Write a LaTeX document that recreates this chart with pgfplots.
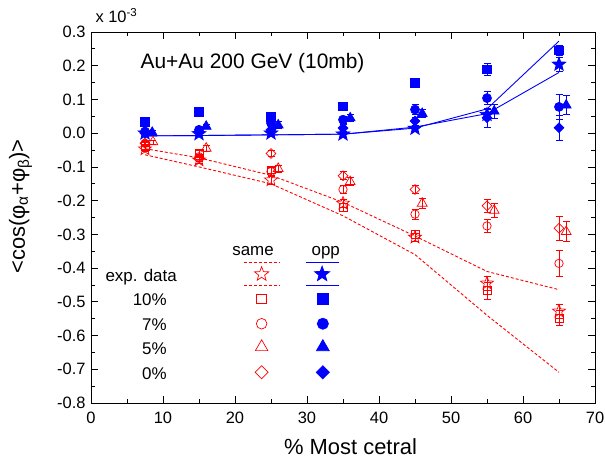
\documentclass[border=0pt]{standalone}
\usepackage{fontspec}
\setmainfont{Liberation Sans}
\usepackage{pgfplots}
\pgfplotsset{compat=1.18}
\definecolor{myred}{RGB}{255,0,0}
\definecolor{myblue}{RGB}{0,0,255}
\pgfdeclareplotmark{fstar}{%
  \pgfpathmoveto{\pgfpointpolar{90}{\pgfplotmarksize}}%
  \pgfpathlineto{\pgfpointpolar{126}{0.42\pgfplotmarksize}}%
  \pgfpathlineto{\pgfpointpolar{162}{\pgfplotmarksize}}%
  \pgfpathlineto{\pgfpointpolar{198}{0.42\pgfplotmarksize}}%
  \pgfpathlineto{\pgfpointpolar{234}{\pgfplotmarksize}}%
  \pgfpathlineto{\pgfpointpolar{270}{0.42\pgfplotmarksize}}%
  \pgfpathlineto{\pgfpointpolar{306}{\pgfplotmarksize}}%
  \pgfpathlineto{\pgfpointpolar{342}{0.42\pgfplotmarksize}}%
  \pgfpathlineto{\pgfpointpolar{18}{\pgfplotmarksize}}%
  \pgfpathlineto{\pgfpointpolar{54}{0.42\pgfplotmarksize}}%
  \pgfpathclose\pgfusepathqstroke}
\pgfdeclareplotmark{fstar*}{%
  \pgfpathmoveto{\pgfpointpolar{90}{\pgfplotmarksize}}%
  \pgfpathlineto{\pgfpointpolar{126}{0.42\pgfplotmarksize}}%
  \pgfpathlineto{\pgfpointpolar{162}{\pgfplotmarksize}}%
  \pgfpathlineto{\pgfpointpolar{198}{0.42\pgfplotmarksize}}%
  \pgfpathlineto{\pgfpointpolar{234}{\pgfplotmarksize}}%
  \pgfpathlineto{\pgfpointpolar{270}{0.42\pgfplotmarksize}}%
  \pgfpathlineto{\pgfpointpolar{306}{\pgfplotmarksize}}%
  \pgfpathlineto{\pgfpointpolar{342}{0.42\pgfplotmarksize}}%
  \pgfpathlineto{\pgfpointpolar{18}{\pgfplotmarksize}}%
  \pgfpathlineto{\pgfpointpolar{54}{0.42\pgfplotmarksize}}%
  \pgfpathclose\pgfusepathqfillstroke}
\pgfplotsset{
  redpt/.style={only marks, color=myred, line width=0.7bp,
    error bars/y dir=both, error bars/y explicit,
    error bars/error bar style={line width=0.7bp, color=myred},
    error bars/error mark options={rotate=90, mark size=3.5bp, line width=0.7bp, color=myred}},
  bluept/.style={only marks, color=myblue, fill=myblue, line width=0.7bp,
    error bars/y dir=both, error bars/y explicit,
    error bars/error bar style={line width=0.7bp, color=myblue},
    error bars/error mark options={rotate=90, mark size=3.5bp, line width=0.7bp, color=myblue}},
  legr/.style={only marks, color=myred, line width=0.7bp},
  legb/.style={only marks, color=myblue, fill=myblue, line width=0.7bp},
  bline/.style={draw=myblue, color=myblue, line width=0.9bp, no marks},
  rline/.style={draw=myred, color=myred, line width=0.9bp, dash pattern=on 3bp off 2bp, no marks},
}
\begin{document}
\begin{tikzpicture}
\begin{axis}[name=ax, scale only axis, width=504bp, height=371bp,
  xmin=0, xmax=70, ymin=-0.8, ymax=0.3,
  xtick={0,10,20,30,40,50,60,70},
  ytick={-0.8,-0.7,-0.6,-0.5,-0.4,-0.3,-0.2,-0.1,0,0.1,0.2,0.3},
  yticklabels={-0.8,-0.7,-0.6,-0.5,-0.4,-0.3,-0.2,-0.1,0.0,0.1,0.2,0.3},
  minor x tick num=1, minor y tick num=1,
  tick align=inside, major tick length=7bp, minor tick length=4bp,
  tick style={line width=0.8bp, color=black},
  axis line style={line width=0.8bp},
  /pgf/number format/assume math mode=true,
  tick label style={font=\fontsize{16.5}{18}\selectfont},
  xticklabel style={yshift=-6bp},
  yticklabel style={xshift=-2bp},
  xlabel={\% Most cetral},
  ylabel={<cos(φ\textsubscript{α}+φ\textsubscript{β})>},
  xlabel style={font=\fontsize{22}{24}\selectfont, at={(axis description cs:0.515,-0.119)}, anchor=center},
  ylabel style={font=\fontsize{22}{24}\selectfont, at={(axis description cs:-0.14,0.53)}, anchor=center},
  clip=false,
]
% model lines
\addplot[bline] coordinates {(7.5,-0.008)(15,-0.007)(25,-0.005)(35,-0.003)(45,0.015)(55,0.072)(65,0.273)};
\addplot[bline] coordinates {(7.5,-0.008)(15,-0.007)(25,-0.005)(35,-0.003)(45,0.018)(55,0.058)(65,0.180)};
\addplot[rline] coordinates {(7.5,-0.046)(15,-0.073)(25,-0.125)(35,-0.205)(45,-0.305)(55,-0.410)(65,-0.464)};
\addplot[rline] coordinates {(7.5,-0.064)(15,-0.100)(25,-0.150)(35,-0.245)(45,-0.360)(55,-0.540)(65,-0.709)};
% red open (same)
\addplot[redpt, mark=square, mark size=3.9bp] coordinates {(7.5,-0.040)+-(0,0.008) (15,-0.060)+-(0,0.008) (25,-0.109)+-(0,0.010) (35,-0.221)+-(0,0.012) (45,-0.300)+-(0,0.012) (55,-0.467)+-(0,0.025) (65,-0.548)+-(0,0.022)};
\addplot[redpt, mark=o, mark size=4.2bp] coordinates {(7.5,-0.030)+-(0,0.008) (15,-0.070)+-(0,0.008) (25,-0.114)+-(0,0.012) (35,-0.167)+-(0,0.012) (45,-0.240)+-(0,0.015) (55,-0.275)+-(0,0.020) (65,-0.386)+-(0,0.038)};
\addplot[redpt, mark=triangle, mark size=5.7bp] coordinates {(8.6,-0.026)+-(0,0.006) (16,-0.045)+-(0,0.008) (26,-0.105)+-(0,0.010) (36,-0.144)+-(0,0.012) (46,-0.208)+-(0,0.014) (56,-0.229)+-(0,0.020) (66,-0.292)+-(0,0.030)};
\addplot[redpt, mark=diamond, mark size=4.9bp, mark options={xscale=1.33}] coordinates {(7.5,-0.030)+-(0,0.006) (15,-0.075)+-(0,0.008) (25,-0.060)+-(0,0.010) (35,-0.126)+-(0,0.012) (45,-0.167)+-(0,0.012) (55,-0.215)+-(0,0.020) (65,-0.282)+-(0,0.035)};
\addplot[redpt, mark=fstar, mark size=6.8bp] coordinates {(7.5,-0.047)+-(0,0.008) (15,-0.080)+-(0,0.010) (25,-0.139)+-(0,0.012) (35,-0.208)+-(0,0.012) (45,-0.309)+-(0,0.012) (55,-0.445)+-(0,0.020) (65,-0.528)+-(0,0.020)};
% blue filled (opp)
\addplot[bluept, mark=square*, mark size=4.2bp] coordinates {(7.5,0.033)+-(0,0.012) (15,0.063)+-(0,0.006) (25,0.048)+-(0,0.015) (35,0.080)+-(0,0.006) (45,0.149)+-(0,0.012) (55,0.189)+-(0,0.018) (65,0.245)+-(0,0.015)};
\addplot[bluept, mark=*, mark size=4.5bp] coordinates {(7.5,0.005)+-(0,0.005) (15,0.010)+-(0,0.006) (25,0.030)+-(0,0.012) (35,0.040)+-(0,0.010) (45,0.070)+-(0,0.015) (55,0.104)+-(0,0.020) (65,0.078)+-(0,0.038)};
\addplot[bluept, mark=triangle*, mark size=5.7bp] coordinates {(8.5,0.002)+-(0,0.005) (16,0.020)+-(0,0.006) (26,0.024)+-(0,0.010) (36,0.045)+-(0,0.010) (46,0.058)+-(0,0.012) (56,0.065)+-(0,0.020) (66,0.083)+-(0,0.028)};
\addplot[bluept, mark=diamond*, mark size=4.9bp, mark options={xscale=1.33}] coordinates {(7.5,0.000)+-(0,0.005) (15,0.005)+-(0,0.006) (25,0.010)+-(0,0.010) (35,0.015)+-(0,0.010) (45,0.036)+-(0,0.012) (55,0.046)+-(0,0.028) (65,0.016)+-(0,0.037)};
\addplot[bluept, mark=fstar*, mark size=7.2bp] coordinates {(7.5,0.000)+-(0,0.004) (15,-0.002)+-(0,0.005) (25,0.000)+-(0,0.008) (35,-0.003)+-(0,0.008) (45,0.014)+-(0,0.010) (55,0.055)+-(0,0.015) (65,0.204)+-(0,0.020)};
% legend block
\addplot[rline] coordinates {(21.2,-0.384)(26.3,-0.384)};
\addplot[rline] coordinates {(21.2,-0.452)(26.3,-0.452)};
\addplot[bline] coordinates {(29.9,-0.384)(34.5,-0.384)};
\addplot[bline] coordinates {(29.9,-0.452)(34.5,-0.452)};
\addplot[legr, mark=fstar, mark size=7.5bp] coordinates {(23.7,-0.418)};
\addplot[legr, mark=square, mark size=4.8bp] coordinates {(23.7,-0.491)};
\addplot[legr, mark=o, mark size=5.3bp] coordinates {(23.7,-0.565)};
\addplot[legr, mark=triangle, mark size=7.2bp] coordinates {(23.7,-0.634)};
\addplot[legr, mark=diamond, mark size=6.5bp, mark options={xscale=1.33}] coordinates {(23.7,-0.709)};
\addplot[legb, mark=fstar*, mark size=8bp] coordinates {(32.1,-0.418)};
\addplot[legb, mark=square*, mark size=5.2bp] coordinates {(32.2,-0.491)};
\addplot[legb, mark=*, mark size=5.6bp] coordinates {(32.2,-0.565)};
\addplot[legb, mark=triangle*, mark size=7.4bp] coordinates {(32.2,-0.634)};
\addplot[legb, mark=diamond*, mark size=6.6bp, mark options={xscale=1.33}] coordinates {(32.2,-0.709)};
\node[anchor=base, font=\fontsize{17}{19}\selectfont] at (axis cs:22.5,-0.364) {same};
\node[anchor=base, font=\fontsize{17}{19}\selectfont] at (axis cs:32.6,-0.364) {opp};
\node[anchor=base east, font=\fontsize{17}{19}\selectfont] at (axis cs:12.4,-0.440) {exp. data};
\node[anchor=base east, font=\fontsize{17}{19}\selectfont] at (axis cs:11.0,-0.512) {10\%};
\node[anchor=base east, font=\fontsize{17}{19}\selectfont] at (axis cs:11.0,-0.585) {7\%};
\node[anchor=base east, font=\fontsize{17}{19}\selectfont] at (axis cs:11.0,-0.655) {5\%};
\node[anchor=base east, font=\fontsize{17}{19}\selectfont] at (axis cs:11.0,-0.730) {0\%};
\node[anchor=west, font=\fontsize{21}{23}\selectfont] at (axis cs:6.4,0.207) {Au+Au 200 GeV (10mb)};
\node[anchor=base west, font=\fontsize{16.5}{18}\selectfont] at ([xshift=1bp, yshift=9bp]rel axis cs:0,1) {x 10\textsuperscript{-3}};
\end{axis}
\pgfresetboundingbox
\path ([xshift=-91bp, yshift=-58bp]ax.south west) rectangle ([xshift=10bp, yshift=32bp]ax.north east);
\end{tikzpicture}
\end{document}
